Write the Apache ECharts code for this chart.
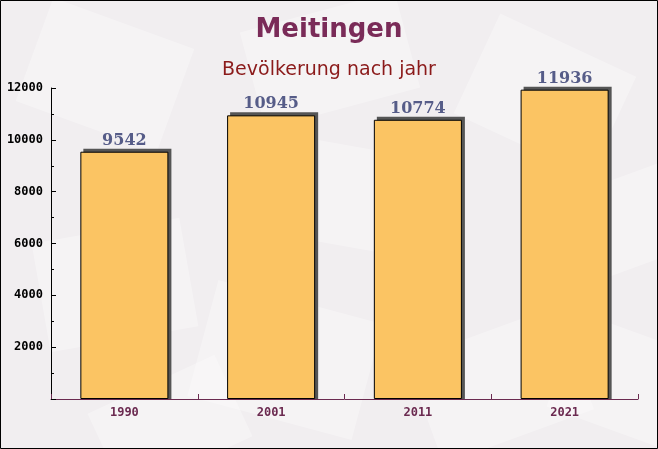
<!DOCTYPE html>
<html><head><meta charset="utf-8">
<script src="https://cdn.jsdelivr.net/npm/echarts@6/dist/echarts.min.js"></script>
<style>html,body{margin:0;padding:0;background:#f2eff1}#c{width:658px;height:449px}</style>
</head><body><div id="c"></div>
<script>
const categories = ['1990', '2001', '2011', '2021'];
const population = [9542, 10945, 10774, 11936];
const yTicks = [0, 2000, 4000, 6000, 8000, 10000, 12000];

const chart = echarts.init(document.getElementById('c'));
const bgShapes = [];
const shapeDefs = [[30,20,150,110,-20],[250,10,160,100,15],[470,40,150,110,-25],[560,180,120,90,20],[40,230,150,110,10],[200,300,170,120,-15],[420,330,160,110,20],[300,150,140,100,-10],[560,330,120,100,-20],[100,380,140,90,25]];
shapeDefs.forEach(d => bgShapes.push({type:'rect', x:d[0], y:d[1], rotation:d[4]*Math.PI/180, originX:d[2]/2, originY:d[3]/2, shape:{width:d[2],height:d[3]}, style:{fill:'rgba(255,255,255,0.3)'}, z:-10, silent:true}));
bgShapes.push({type:'rect', shape:{x:0.5,y:0.5,width:657,height:448}, style:{fill:'none', stroke:'#000', lineWidth:1}, z:100, silent:true});

chart.setOption({
  backgroundColor: '#f1eef0',
  animation: false,
  graphic: bgShapes,
  title: [
    {text: 'Meitingen', left: 'center', top: 12, textStyle: {fontFamily: 'DejaVu Sans', fontWeight: 'bold', fontSize: 26, color: '#7a2b58'}},
    {text: 'Bevölkerung nach jahr', left: 'center', top: 56, textStyle: {fontFamily: 'DejaVu Sans', fontWeight: 'normal', fontSize: 19, color: '#8b1a1a'}}
  ],
  grid: {left: 51, right: 20, top: 88, bottom: 50, containLabel: false},
  xAxis: {
    type: 'category', data: categories,
    axisLine: {lineStyle: {color: '#6b2a50', width: 1}},
    axisTick: {show: true, inside: true, alignWithLabel: false, length: 5, lineStyle: {color: '#6b2a50'}},
    axisLabel: {fontFamily: 'DejaVu Sans Mono', fontWeight: 'bold', fontSize: 12, color: '#6b2a50', margin: 8}
  },
  yAxis: {
    type: 'value', min: 0, max: 12000, interval: 2000,
    axisLine: {show: true, lineStyle: {color: '#000', width: 1}},
    axisTick: {show: true, inside: true, length: 5, lineStyle: {color: '#000'}},
    minorTick: {show: true, splitNumber: 2, length: 3, lineStyle: {color: '#000'}},
    splitLine: {show: false},
    axisLabel: {fontFamily: 'DejaVu Sans Mono', fontWeight: 'bold', fontSize: 12, color: '#000', margin: 8,
      formatter: v => yTicks.includes(v) && v !== 0 ? String(v) : ''}
  },
  series: [
    {
      type: 'custom', z: 1, silent: true,
      data: population.map((v, i) => [i, v]),
      renderItem: (params, api) => {
        const top = api.coord([api.value(0), api.value(1)]);
        const base = api.coord([api.value(0), 0]);
        const w = api.size([1, 0])[0] * 0.6;
        return {type: 'rect', shape: {x: top[0] - w / 2 + 3, y: top[1] - 3, width: w, height: base[1] - top[1] + 3},
          style: {fill: '#555555'}};
      }
    },
    {
      type: 'bar', data: population, barWidth: '60%', z: 2,
      itemStyle: {color: '#fbc463', borderColor: '#000', borderWidth: 1},
      label: {show: true, position: 'top', distance: 3, fontFamily: 'DejaVu Serif', fontWeight: 'bold', fontSize: 16, color: '#565c88'}
    }
  ]
});
</script></body></html>
